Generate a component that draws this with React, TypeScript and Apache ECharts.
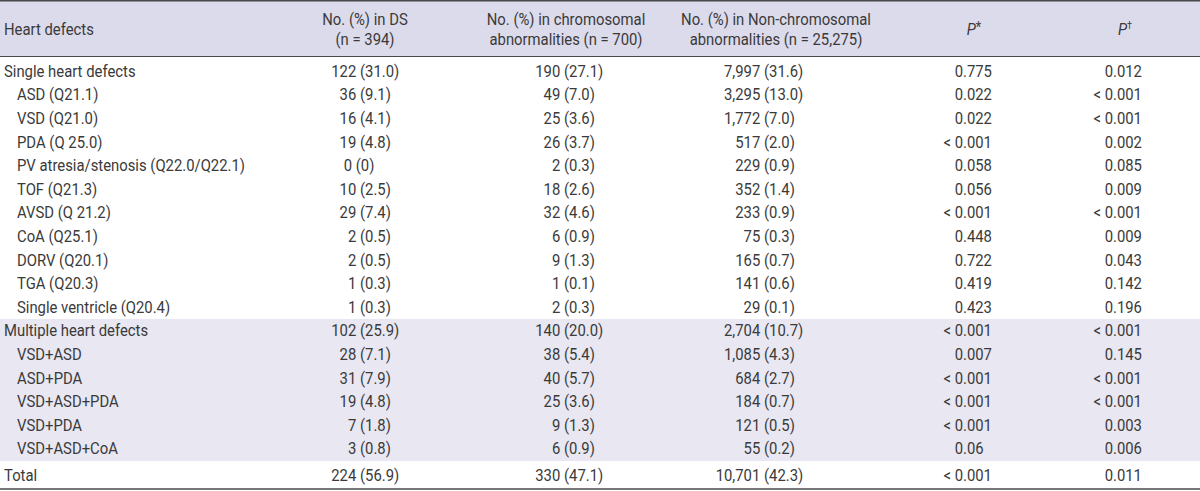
import React, { useEffect, useRef } from "react";
import * as echarts from "echarts";

const rowLabels = [
  "Single heart defects",
  "ASD (Q21.1)",
  "VSD (Q21.0)",
  "PDA (Q 25.0)",
  "PV atresia/stenosis (Q22.0/Q22.1)",
  "TOF (Q21.3)",
  "AVSD (Q 21.2)",
  "CoA (Q25.1)",
  "DORV (Q20.1)",
  "TGA (Q20.3)",
  "Single ventricle (Q20.4)",
  "Multiple heart defects",
  "VSD+ASD",
  "ASD+PDA",
  "VSD+ASD+PDA",
  "VSD+PDA",
  "VSD+ASD+CoA",
  "Total",
];
const rowIndent = [0, 1, 1, 1, 1, 1, 1, 1, 1, 1, 1, 0, 1, 1, 1, 1, 1, 0];
// 0 = white section, 1 = shaded section, 2 = total
const rowSection = [0, 0, 0, 0, 0, 0, 0, 0, 0, 0, 0, 1, 1, 1, 1, 1, 1, 2];

const dsValues = [
  "122 (31.0)", "36 (9.1)", "16 (4.1)", "19 (4.8)", "0 (0)", "10 (2.5)", "29 (7.4)",
  "2 (0.5)", "2 (0.5)", "1 (0.3)", "1 (0.3)", "102 (25.9)", "28 (7.1)", "31 (7.9)",
  "19 (4.8)", "7 (1.8)", "3 (0.8)", "224 (56.9)",
];
const chromValues = [
  "190 (27.1)", "49 (7.0)", "25 (3.6)", "26 (3.7)", "2 (0.3)", "18 (2.6)", "32 (4.6)",
  "6 (0.9)", "9 (1.3)", "1 (0.1)", "2 (0.3)", "140 (20.0)", "38 (5.4)", "40 (5.7)",
  "25 (3.6)", "9 (1.3)", "6 (0.9)", "330 (47.1)",
];
const nonChromValues = [
  "7,997 (31.6)", "3,295 (13.0)", "1,772 (7.0)", "517 (2.0)", "229 (0.9)", "352 (1.4)",
  "233 (0.9)", "75 (0.3)", "165 (0.7)", "141 (0.6)", "29 (0.1)", "2,704 (10.7)",
  "1,085 (4.3)", "684 (2.7)", "184 (0.7)", "121 (0.5)", "55 (0.2)", "10,701 (42.3)",
];
const pStarValues = [
  "0.775", "0.022", "0.022", "< 0.001", "0.058", "0.056", "< 0.001", "0.448", "0.722",
  "0.419", "0.423", "< 0.001", "0.007", "< 0.001", "< 0.001", "< 0.001", "0.06", "< 0.001",
];
const pDaggerValues = [
  "0.012", "< 0.001", "< 0.001", "0.002", "0.085", "0.009", "< 0.001", "0.009", "0.043",
  "0.142", "0.196", "< 0.001", "0.145", "< 0.001", "< 0.001", "0.003", "0.006", "0.011",
];

const headerFirstCol = "Heart defects";
const headerCountCols = [
  ["No. (%) in DS", "(n = 394)"],
  ["No. (%) in chromosomal", "abnormalities (n = 700)"],
  ["No. (%) in Non-chromosomal", "abnormalities (n = 25,275)"],
];
const headerPSymbols = ["*", "\u2020"];

const FONT_FAMILY = "Roboto, 'Liberation Sans', Arial, sans-serif";
const FONT_SIZE = 16.5;
const FONT_WEIGHT = 400;
const SX = 0.9; // horizontal condensing to mimic a condensed face
const TEXT_COLOR = "#3a3a3a";

export default function App() {
  const ref = useRef<HTMLDivElement>(null);

  useEffect(() => {
    if (!ref.current) return;
    const chart = echarts.init(ref.current, undefined, { renderer: "svg" });

    const canvas = document.createElement("canvas");
    const ctx = canvas.getContext("2d")!;
    ctx.font = `${FONT_WEIGHT} ${FONT_SIZE}px ${FONT_FAMILY}`;
    const tw = (s: string) => ctx.measureText(s).width * SX;

    const W = 1200;
    const headerTop = 1;
    const headerBottom = 56;
    const firstRowCenter = 71;
    const rowStep = 23.6;
    const shadeTop = 319;
    const shadeBottom = 461;
    const totalCenter = 475;
    const bottomLine = 489;

    const labelX = 4;
    const indentX = 17;
    const countColParenX = [360, 564, 764];
    const countColCenter = [365, 566, 776];
    const pDecimalX = [963, 1113];
    const pColCenter = [974, 1125];

    const rowY = (i: number) =>
      rowSection[i] === 2 ? totalCenter : firstRowCenter + i * rowStep;

    const baseStyle = {
      fontFamily: FONT_FAMILY,
      fontSize: FONT_SIZE,
      fontWeight: FONT_WEIGHT,
      fill: TEXT_COLOR,
    };

    const txt = (x: number, y: number, text: string, align: string) => ({
      type: "text",
      x,
      y,
      scaleX: SX,
      style: { ...baseStyle, text, align, verticalAlign: "middle" },
    });

    const elements: any[] = [];

    elements.push({
      type: "rect",
      shape: { x: 0, y: headerTop, width: W, height: headerBottom - headerTop },
      style: { fill: "#dcdbec" },
      silent: true,
    });
    elements.push({
      type: "rect",
      shape: { x: 0, y: shadeTop, width: W, height: shadeBottom - shadeTop },
      style: { fill: "#e8e7f2" },
      silent: true,
    });
    elements.push({
      type: "line",
      shape: { x1: 0, y1: 0.75, x2: W, y2: 0.75 },
      style: { stroke: "#4a4a4a", lineWidth: 1.5 },
    });
    elements.push({
      type: "line",
      shape: { x1: 0, y1: headerBottom + 0.5, x2: W, y2: headerBottom + 0.5 },
      style: { stroke: "#4a4a4a", lineWidth: 1 },
    });
    elements.push({
      type: "line",
      shape: { x1: 0, y1: bottomLine, x2: W, y2: bottomLine },
      style: { stroke: "#4a4a4a", lineWidth: 1.5 },
    });

    // header
    elements.push(txt(labelX, 29, headerFirstCol, "left"));
    headerCountCols.forEach((lines, c) => {
      lines.forEach((ln, k) => {
        elements.push(txt(countColCenter[c], 19 + k * 20, ln, "center"));
      });
    });
    headerPSymbols.forEach((sym, c) => {
      elements.push({
        type: "text",
        x: pColCenter[c],
        y: 29,
        scaleX: SX,
        style: {
          ...baseStyle,
          text: `{i|P}{s|${sym}}`,
          align: "center",
          verticalAlign: "middle",
          rich: {
            i: {
              fontFamily: FONT_FAMILY,
              fontSize: 16.5,
              fontWeight: FONT_WEIGHT,
              fontStyle: "italic",
              fill: TEXT_COLOR,
              lineHeight: 18,
            },
            s: {
              fontFamily: FONT_FAMILY,
              fontSize: sym === "*" ? 14 : 10,
              fontWeight: FONT_WEIGHT,
              fill: TEXT_COLOR,
              lineHeight: 18,
              verticalAlign: "top",
            },
          },
        },
      });
    });

    // body
    rowLabels.forEach((lab, i) => {
      const y = rowY(i);
      elements.push(txt(rowIndent[i] ? indentX : labelX, y, lab, "left"));
      [dsValues, chromValues, nonChromValues].forEach((arr, c) => {
        const s = arr[i];
        const p = s.indexOf("(");
        const pct = s.slice(p);
        let x: number;
        if (pct.indexOf(".") < 0) {
          x = countColCenter[c] - 6 - tw(s) / 2;
        } else {
          x = countColParenX[c] - tw(s.slice(0, p));
        }
        elements.push(txt(x, y, s, "left"));
      });
      [pStarValues, pDaggerValues].forEach((arr, c) => {
        const s = arr[i];
        const d = s.indexOf(".");
        const x = pDecimalX[c] - tw(s.slice(0, d));
        elements.push(txt(x, y, s, "left"));
      });
    });

    chart.setOption({
      animation: false,
      backgroundColor: "#ffffff",
      graphic: { elements },
    });

    return () => chart.dispose();
  }, []);

  return (
    <div
      ref={ref}
      style={{ position: "fixed", left: 0, top: 0, width: 1200, height: 491 }}
    />
  );
}
